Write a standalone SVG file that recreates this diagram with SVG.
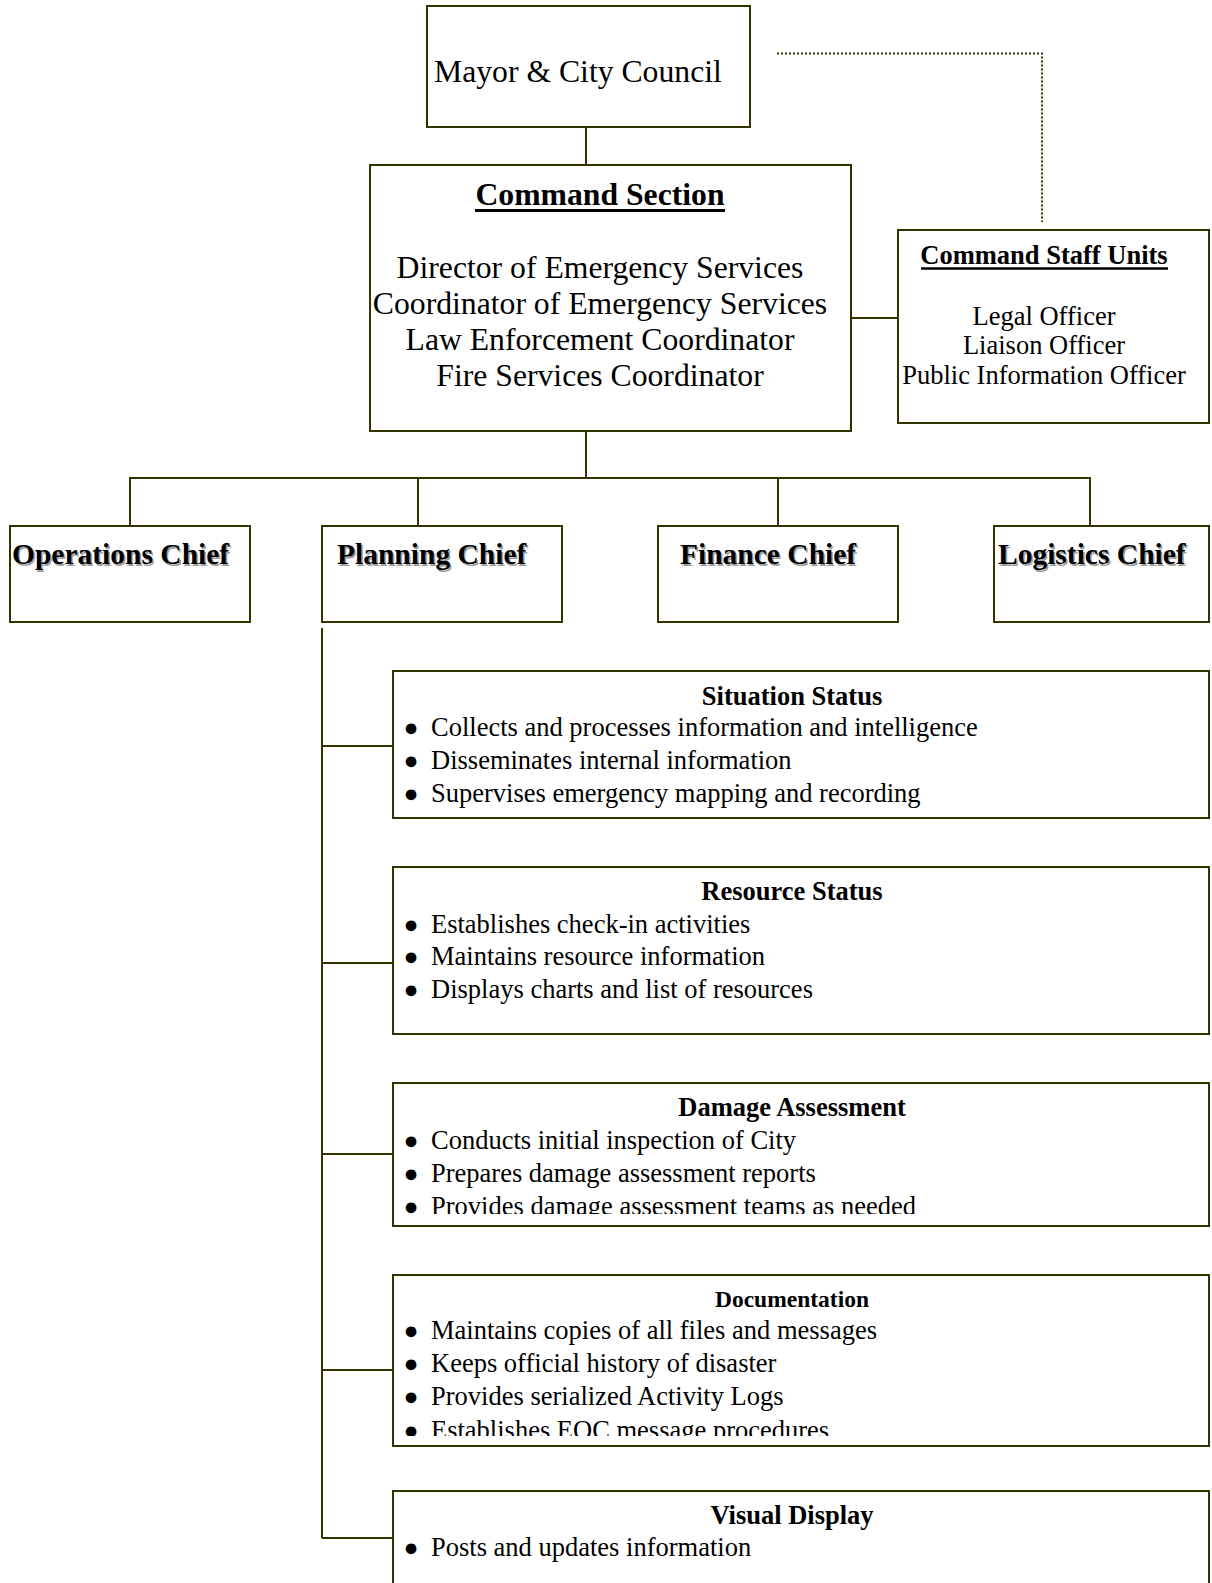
<svg xmlns="http://www.w3.org/2000/svg" width="1212" height="1583" viewBox="0 0 1212 1583">
  <style>
    .box { fill: #ffffff; stroke: #333300; stroke-width: 2; }
    .wire { fill: none; stroke: #333300; stroke-width: 2; }
    .dots { fill: none; stroke: #333300; stroke-width: 2; stroke-dasharray: 2 2; }
    .ul { stroke: #000000; stroke-width: 3; }
    text { font-family: "Liberation Serif", "Times New Roman", serif; fill: #000000; }
    .big { font-size: 31.7px; }
    .bigb { font-size: 31.7px; font-weight: bold; }
    .mid { font-size: 26.5px; }
    .midb { font-size: 26.5px; font-weight: bold; }
    .chief { font-size: 29.5px; font-weight: bold; }
    .shadow { fill: #a0a0a0; }
    .c { text-anchor: middle; }
    .dot { font-size: 25px; text-anchor: middle; }
  </style>
  <defs>
    <clipPath id="clipDamage"><rect x="394" y="1084" width="814" height="130"/></clipPath>
    <clipPath id="clipDocs"><rect x="394" y="1276" width="814" height="160"/></clipPath>
  </defs>

  <rect width="1212" height="1583" fill="#ffffff"/>

  <!-- connectors -->
  <g id="connectors">
    <path class="wire" d="M586 127 V165"/>
    <path class="dots" d="M777 53.5 H1042 V222"/>
    <path class="wire" d="M851 318 H898"/>
    <path class="wire" d="M586 431 V478"/>
    <path class="wire" d="M130 526 V478 H1090 V526"/>
    <path class="wire" d="M418 478 V526"/>
    <path class="wire" d="M778 478 V526"/>
    <path class="wire" d="M322 628 V1538"/>
    <path class="wire" d="M322 746 H393"/>
    <path class="wire" d="M322 963 H393"/>
    <path class="wire" d="M322 1154 H393"/>
    <path class="wire" d="M322 1370 H393"/>
    <path class="wire" d="M322 1538 H393"/>
  </g>

  <!-- top level -->
  <g id="mayor">
    <rect class="box" x="427" y="6" width="323" height="121"/>
    <text class="big" x="434" y="82">Mayor &amp; City Council</text>
  </g>

  <g id="command-section">
    <rect class="box" x="370" y="165" width="481" height="266"/>
    <text class="bigb c" x="600" y="205">Command Section</text>
    <line class="ul" x1="475" y1="210.5" x2="725" y2="210.5"/>
    <text class="big c" x="600" y="278">Director of Emergency Services</text>
    <text class="big c" x="600" y="314">Coordinator of Emergency Services</text>
    <text class="big c" x="600" y="350">Law Enforcement Coordinator</text>
    <text class="big c" x="600" y="386">Fire Services Coordinator</text>
  </g>

  <g id="command-staff">
    <rect class="box" x="898" y="230" width="311" height="193"/>
    <text class="midb c" x="1044" y="264">Command Staff Units</text>
    <line class="ul" x1="921" y1="268.5" x2="1168" y2="268.5" style="stroke-width:2.5"/>
    <text class="mid c" x="1044" y="325">Legal Officer</text>
    <text class="mid c" x="1044" y="354">Liaison Officer</text>
    <text class="mid c" x="1044" y="384">Public Information Officer</text>
  </g>

  <!-- section chiefs -->
  <g id="operations-chief">
    <rect class="box" x="10" y="526" width="240" height="96"/>
    <text class="chief shadow" x="13.5" y="565.5">Operations Chief</text>
    <text class="chief" x="12" y="564">Operations Chief</text>
  </g>
  <g id="planning-chief">
    <rect class="box" x="322" y="526" width="240" height="96"/>
    <text class="chief shadow" x="338.5" y="565.5">Planning Chief</text>
    <text class="chief" x="337" y="564">Planning Chief</text>
  </g>
  <g id="finance-chief">
    <rect class="box" x="658" y="526" width="240" height="96"/>
    <text class="chief shadow" x="681.5" y="565.5">Finance Chief</text>
    <text class="chief" x="680" y="564">Finance Chief</text>
  </g>
  <g id="logistics-chief">
    <rect class="box" x="994" y="526" width="215" height="96"/>
    <text class="chief shadow" x="999.5" y="565.5">Logistics Chief</text>
    <text class="chief" x="998" y="564">Logistics Chief</text>
  </g>

  <!-- planning units -->
  <g id="situation-status">
    <rect class="box" x="393" y="671" width="816" height="147"/>
    <text class="midb c" x="792" y="704.5">Situation Status</text>
    <text class="dot" x="411" y="736">●</text>
    <text class="mid" x="431" y="736">Collects and processes information and intelligence</text>
    <text class="dot" x="411" y="769">●</text>
    <text class="mid" x="431" y="769">Disseminates internal information</text>
    <text class="dot" x="411" y="802">●</text>
    <text class="mid" x="431" y="802">Supervises emergency mapping and recording</text>
  </g>

  <g id="resource-status">
    <rect class="box" x="393" y="867" width="816" height="167"/>
    <text class="midb c" x="792" y="900">Resource Status</text>
    <text class="dot" x="411" y="932.5">●</text>
    <text class="mid" x="431" y="932.5">Establishes check-in activities</text>
    <text class="dot" x="411" y="965">●</text>
    <text class="mid" x="431" y="965">Maintains resource information</text>
    <text class="dot" x="411" y="998">●</text>
    <text class="mid" x="431" y="998">Displays charts and list of resources</text>
  </g>

  <g id="damage-assessment">
    <rect class="box" x="393" y="1083" width="816" height="143"/>
    <g clip-path="url(#clipDamage)">
      <text class="midb c" x="792" y="1116">Damage Assessment</text>
      <text class="dot" x="411" y="1148.5">●</text>
      <text class="mid" x="431" y="1148.5">Conducts initial inspection of City</text>
      <text class="dot" x="411" y="1182">●</text>
      <text class="mid" x="431" y="1182">Prepares damage assessment reports</text>
      <text class="dot" x="411" y="1215">●</text>
      <text class="mid" x="431" y="1215">Provides damage assessment teams as needed</text>
    </g>
  </g>

  <g id="documentation">
    <rect class="box" x="393" y="1275" width="816" height="171"/>
    <g clip-path="url(#clipDocs)">
      <text class="c" x="792" y="1307" style="font-size:23.5px;font-weight:bold">Documentation</text>
      <text class="dot" x="411" y="1339">●</text>
      <text class="mid" x="431" y="1339">Maintains copies of all files and messages</text>
      <text class="dot" x="411" y="1371.5">●</text>
      <text class="mid" x="431" y="1371.5">Keeps official history of disaster</text>
      <text class="dot" x="411" y="1405">●</text>
      <text class="mid" x="431" y="1405">Provides serialized Activity Logs</text>
      <text class="dot" x="411" y="1439">●</text>
      <text class="mid" x="431" y="1439">Establishes EOC message procedures</text>
    </g>
  </g>

  <g id="visual-display">
    <rect class="box" x="393" y="1491" width="816" height="200"/>
    <text class="midb c" x="792" y="1524">Visual Display</text>
    <text class="dot" x="411" y="1556">●</text>
    <text class="mid" x="431" y="1556">Posts and updates information</text>
  </g>
</svg>
